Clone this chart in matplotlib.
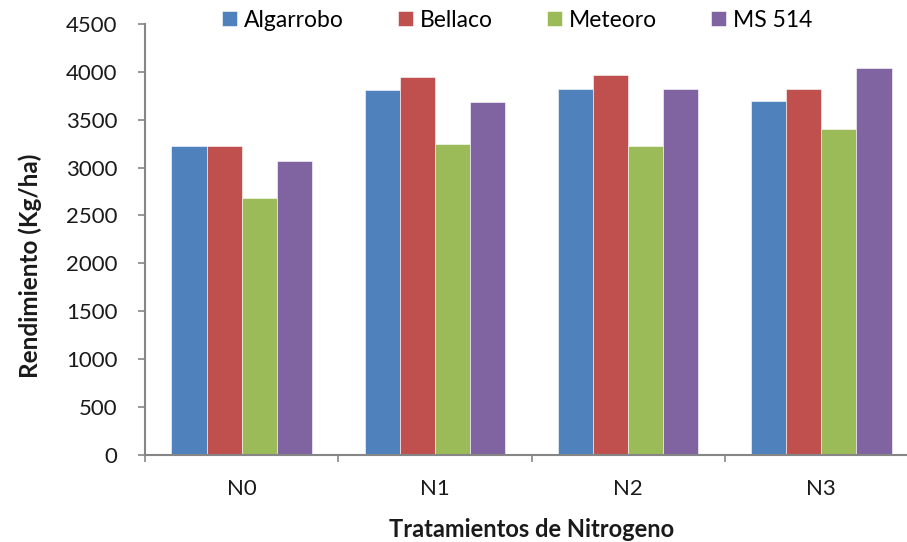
import numpy as np
import matplotlib; matplotlib.use("Agg")
import matplotlib.pyplot as plt

plt.rcParams["font.family"] = ["Lato", "DejaVu Sans"]

categories = ["N0", "N1", "N2", "N3"]
series = ["Algarrobo", "Bellaco", "Meteoro", "MS 514"]
algarrobo = [3230, 3810, 3820, 3690]
bellaco = [3230, 3950, 3965, 3820]
meteoro = [2680, 3245, 3220, 3400]
ms514 = [3065, 3680, 3820, 4035]
yticks = list(range(0, 4501, 500))

COLORS = ["#4F81BD", "#C0504D", "#9BBB59", "#8064A2"]
AXC = "#868686"
TXT = "#1a1a1a"

fig = plt.figure(figsize=(9.07, 5.42), dpi=100)
ax = fig.add_axes([0.16, 0.1605, 0.852, 0.7955])

x = np.arange(len(categories))
w = 0.182
for i, (vals, c, name) in enumerate(zip([algarrobo, bellaco, meteoro, ms514], COLORS, series)):
    ax.bar(x + (i - 1.5) * w, vals, width=w, color=c, label=name,
           edgecolor="white", linewidth=0.4)

ax.set_xlim(-0.5, 3.5)
ax.set_ylim(0, 4500)
ax.set_yticks(yticks)
ax.set_yticklabels([str(t) for t in yticks], fontsize=16, color=TXT)
ax.set_xticks(x)
ax.set_xticklabels(categories, fontsize=16, color=TXT)
ax.tick_params(axis="x", length=0, pad=17)
ax.set_xticks(np.arange(-0.5, 3.6, 1), minor=True)
ax.tick_params(axis="x", which="minor", length=5, color=AXC, width=1.2)
ax.tick_params(axis="y", length=5, color=AXC, width=1.2, pad=15)
for s in ["top", "right"]:
    ax.spines[s].set_visible(False)
for s in ["left", "bottom"]:
    ax.spines[s].set_color(AXC)
    ax.spines[s].set_linewidth(1.5)

ax.set_ylabel("Rendimiento (Kg/ha)", fontsize=17.5, fontweight="bold", color=TXT)
ax.yaxis.set_label_coords(-0.133, 0.438)
ax.set_xlabel("Tratamientos de Nitrogeno", fontsize=17, fontweight="bold", color=TXT)
ax.xaxis.set_label_coords(0.5, -0.147)

fig.legend(loc="upper left", bbox_to_anchor=(0.245, 0.982), ncol=4, frameon=False,
           borderpad=0, borderaxespad=0,
           fontsize=16.5, handlelength=0.66, handleheight=0.66, handletextpad=0.3,
           columnspacing=2.35)

fig.savefig("out.png", dpi=100)
